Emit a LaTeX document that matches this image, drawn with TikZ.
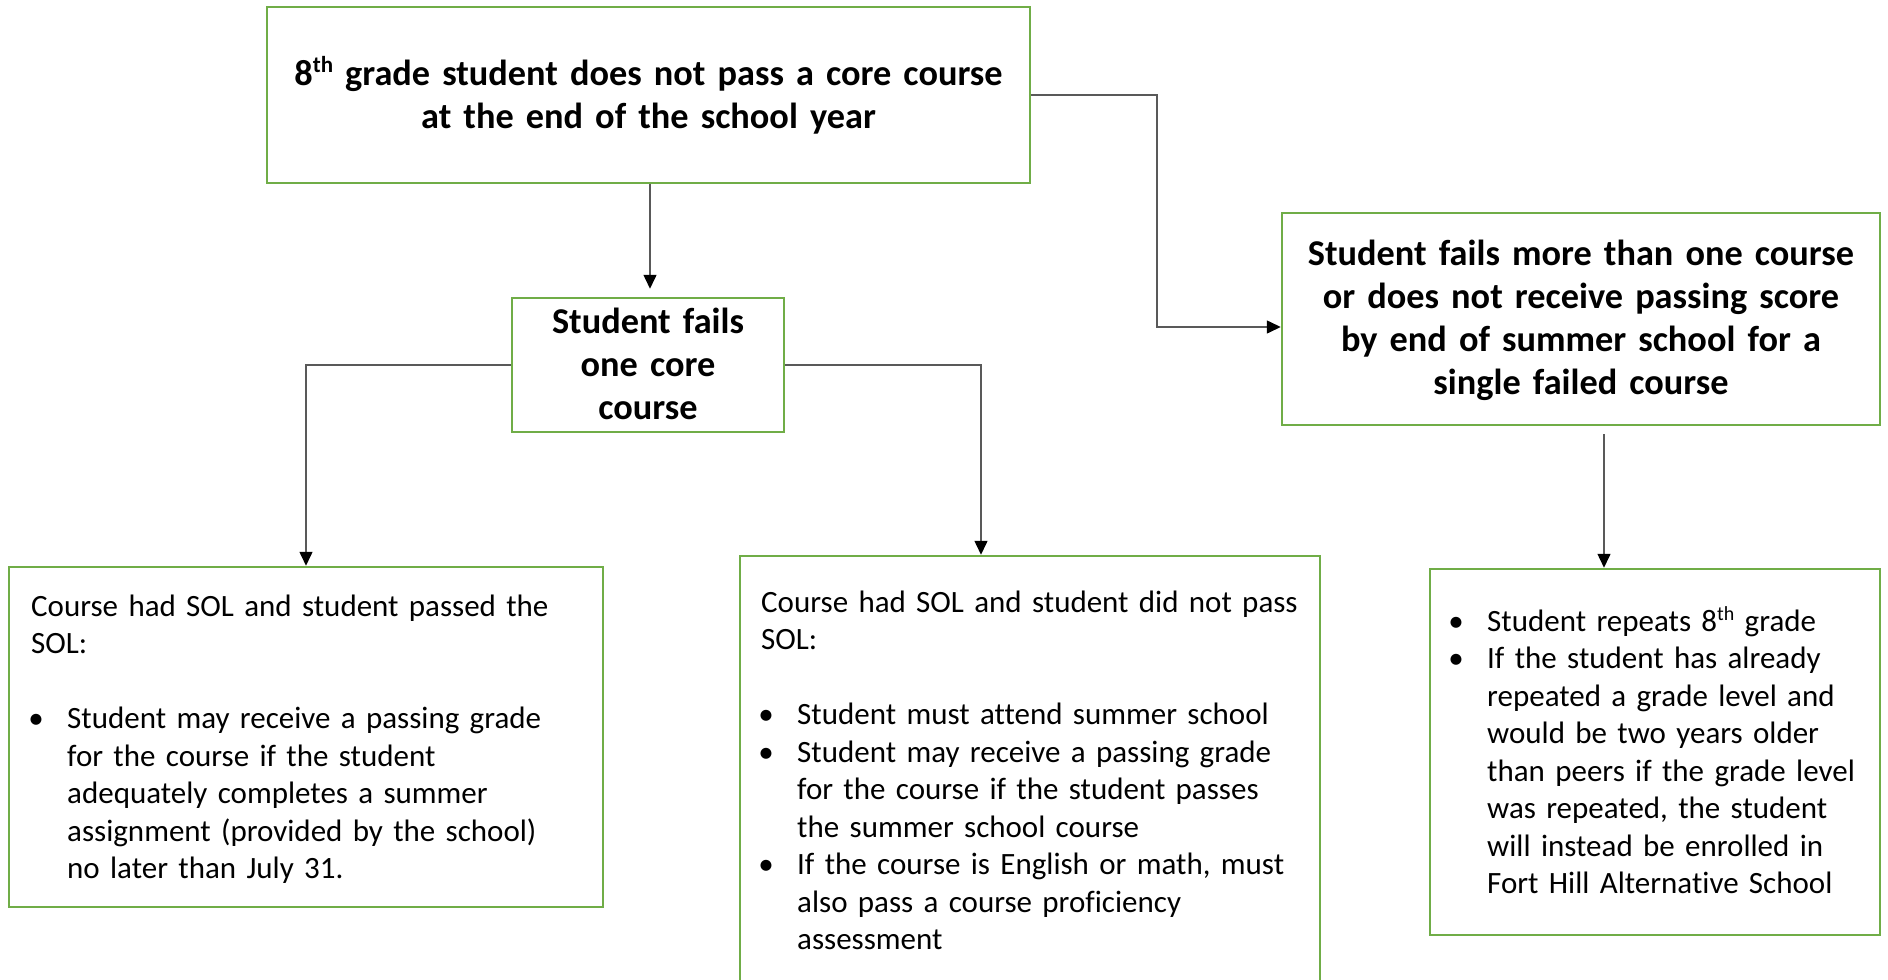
\documentclass[tikz,border=0pt]{standalone}
\usepackage{fontspec}
\setmainfont{Carlito}[Ligatures=NoCommon]
\usetikzlibrary{arrows.meta,calc}
\definecolor{boxgreen}{HTML}{70AD47}
\definecolor{linegray}{HTML}{595959}
\newcommand\mysup[3]{\raisebox{#2}{\fontsize{#1}{#1}\selectfont #3}}
\newcommand\bulitem{\hspace*{5pt}\makebox[0pt]{\textbullet}\hspace*{31pt}}
\newcommand\bulind{\hspace*{36pt}}
\tikzset{
  box/.style={draw=boxgreen, line width=2.5pt, fill=white, inner sep=0pt},
  boldtxt/.style={font=\bfseries\fontsize{36.3}{43}\selectfont, align=center, text width=#1, inner sep=0pt, anchor=base},
  bodytxt/.style={font=\fontsize{31}{37.5}\selectfont, align=left, text width=#1, inner sep=0pt, anchor=base west},
  conn/.style={draw=linegray, line width=1.5pt, -{Triangle[length=14pt,width=13pt,color=black]}},
}
\begin{document}
\begin{tikzpicture}[x=1pt,y=-1pt]
\useasboundingbox (0,0) rectangle (1888,980);
\clip (0,0) rectangle (1888,980);
\fill[white] (0,0) rectangle (1888,980);
% boxes
\node[box, minimum width=763pt, minimum height=176pt] (top) at (648.5,95) {};
\node[box, minimum width=272pt, minimum height=134pt] (fails) at (648,365) {};
\node[box, minimum width=594pt, minimum height=340pt] (leftbox) at (306,737) {};
\node[box, minimum width=580pt, minimum height=444pt] (midbox) at (1030,778) {};
\node[box, minimum width=598pt, minimum height=212pt] (rightbox) at (1581,319) {};
\node[box, minimum width=450pt, minimum height=366pt] (rbottom) at (1655,752) {};
% texts
\node[boldtxt=740pt] (ttop) at (648.5,85) {8\mysup{23}{13pt}{th} grade student does not pass a core course\\at the end of the school year};
\node[boldtxt=260pt] (tfails) at (648,333) {Student fails\\one core\\course};
\node[boldtxt=590pt] (trb) at (1581,265) {Student fails more than one course\\or does not receive passing score\\by end of summer school for a\\single failed course};
\node[bodytxt=565pt] (tleft) at (31,616) {Course had SOL and student passed the\\SOL:\\[37.5pt]
\bulitem Student may receive a passing grade\\
\bulind for the course if the student\\
\bulind adequately completes a summer\\
\bulind assignment (provided by the school)\\
\bulind no later than July 31.};
\node[bodytxt=555pt] (tmid) at (761,612) {Course had SOL and student did not pass\\SOL:\\[37.5pt]
\bulitem Student must attend summer school\\
\bulitem Student may receive a passing grade\\
\bulind for the course if the student passes\\
\bulind the summer school course\\
\bulitem If the course is English or math, must\\
\bulind also pass a course proficiency\\
\bulind assessment};
\node[bodytxt=425pt] (trbot) at (1451,631) {\bulitem Student repeats 8\mysup{20}{11pt}{th} grade\\
\bulitem If the student has already\\
\bulind repeated a grade level and\\
\bulind would be two years older\\
\bulind than peers if the grade level\\
\bulind was repeated, the student\\
\bulind will instead be enrolled in\\
\bulind Fort Hill Alternative School};
% connectors
\coordinate (bx) at (1157,327);
\coordinate (dx) at (981,0);
\coordinate (ex) at (1604,0);
\draw[conn] ($(top.south)+(1.5,0)$) -- ($(fails.north)+(2,-8)$);
\draw[conn] (top.east) -| (bx) -- (bx -| rightbox.west);
\draw[conn] (fails.west) -| (leftbox.north);
\draw[conn] (fails.east) -| (midbox.north -| dx);
\draw[conn] ($(rightbox.south -| ex)+(0,8)$) -- (rbottom.north -| ex);
\end{tikzpicture}
\end{document}
